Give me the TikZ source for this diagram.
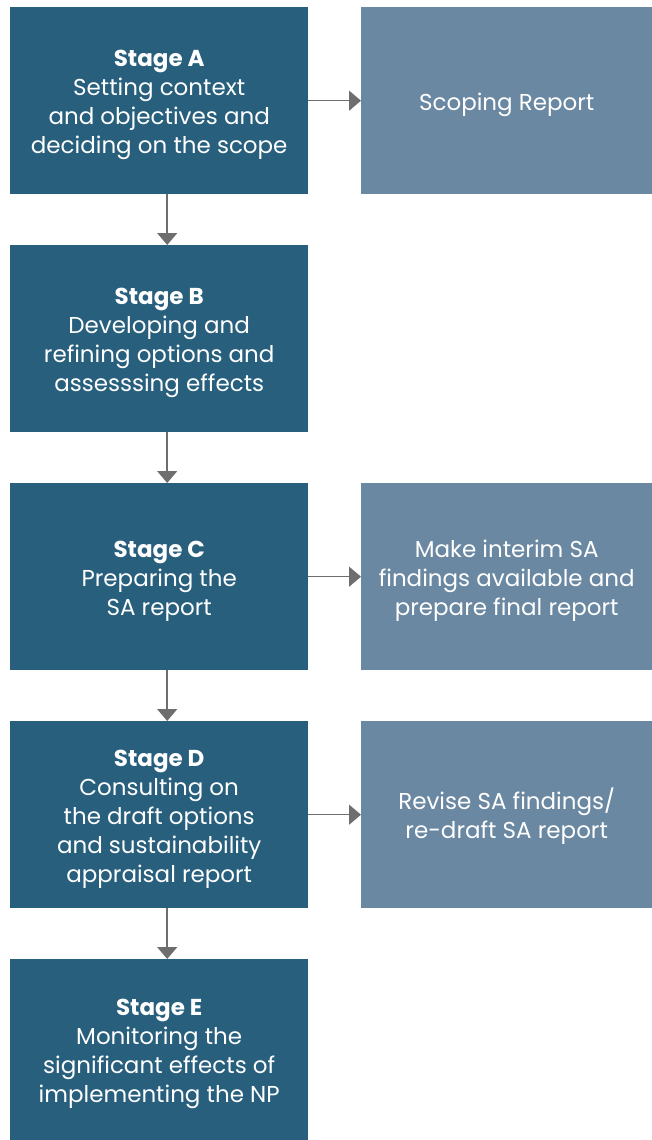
\documentclass[tikz,border=0pt]{standalone}
\usepackage{fontspec}
\setmainfont{Poppins}
\usetikzlibrary{arrows.meta}
\definecolor{stagedark}{HTML}{275F7D}
\definecolor{outlight}{HTML}{6A88A1}
\definecolor{arrowgray}{HTML}{6E6E6E}
\newcommand{\lowstrut}{\rule{0pt}{25pt}}
\begin{document}
\begin{tikzpicture}[x=1pt,y=-1pt,
  stagebox/.style={fill=stagedark,text=white,minimum width=298pt,minimum height=187pt,inner sep=0pt,align=center,font=\fontsize{23}{29}\selectfont,anchor=north west},
  outbox/.style={fill=outlight,text=white,minimum width=291pt,minimum height=187pt,inner sep=0pt,align=center,font=\fontsize{23}{29}\selectfont,anchor=north west},
  flow/.style={draw=arrowgray,line width=1.5pt,-{Triangle[width=20pt,length=12pt]},shorten >=0pt}]
\useasboundingbox (0,0) rectangle (652,1140);
\node[stagebox] (A) at (10,7) {\lowstrut\textbf{Stage A}\\Setting context\\and objectives and\\deciding on the scope};
\node[stagebox] (B) at (10,245) {\lowstrut\textbf{Stage B}\\Developing and\\refining options and\\assesssing effects};
\node[stagebox] (C) at (10,483) {\lowstrut\textbf{Stage C}\\Preparing the\\SA report};
\node[stagebox] (D) at (10,721) {\lowstrut\textbf{Stage D}\\Consulting on\\the draft options\\and sustainability\\appraisal report};
\node[stagebox,minimum height=181pt] (E) at (10,959) {\lowstrut\textbf{Stage E}\\Monitoring the\\significant effects of\\implementing the NP};
\node[outbox] (S) at (361,7) {\lowstrut Scoping Report};
\node[outbox] (M) at (361,483) {\lowstrut Make interim SA\\findings available and\\prepare final report};
\node[outbox] (R) at (361,721) {\lowstrut Revise SA findings/\\re-draft SA report};
\draw[flow] ([xshift=8pt]A.south) -- ([xshift=8pt]B.north);
\draw[flow] ([xshift=8pt]B.south) -- ([xshift=8pt]C.north);
\draw[flow] ([xshift=8pt]C.south) -- ([xshift=8pt]D.north);
\draw[flow] ([xshift=8pt]D.south) -- ([xshift=8pt]E.north);
\draw[flow] (A) -- (S);
\draw[flow] (C) -- (M);
\draw[flow] (D) -- (R);
\end{tikzpicture}
\end{document}
